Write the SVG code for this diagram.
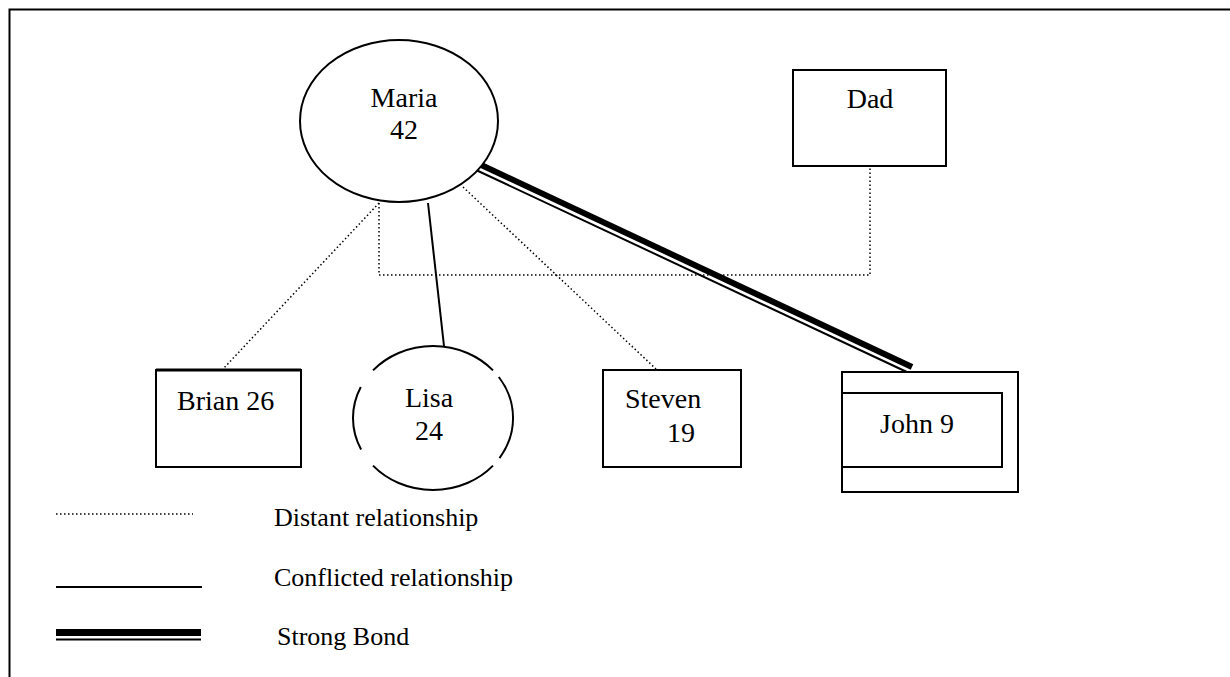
<svg xmlns="http://www.w3.org/2000/svg" width="1230" height="677" viewBox="0 0 1230 677">
<style>
.box{fill:#fff;stroke:#000;stroke-width:2}
.t{font-family:"Liberation Serif","Times New Roman",serif;font-size:28px;fill:#000}
.lt{font-family:"Liberation Serif","Times New Roman",serif;font-size:26px;fill:#000}
.dot{fill:none;stroke:#000;stroke-width:1.5;stroke-dasharray:1.5 2.5}
.solid{fill:none;stroke:#000;stroke-width:2}
.thick{fill:none;stroke:#000;stroke-width:6}
.thin{fill:none;stroke:#000;stroke-width:2}
</style>
<rect width="1230" height="677" fill="#fff"/>
<g id="frame">
<path d="M9.5,677 V9.5 H1230" fill="none" stroke="#000" stroke-width="2"/>
</g>
<g id="connectors">
<polyline class="dot" points="379,203 379,275 870,275 870,166"/>
<line class="dot" x1="379" y1="203" x2="223" y2="369"/>
<line class="dot" x1="463" y1="187" x2="656" y2="369"/>
<line class="solid" x1="428" y1="203" x2="444" y2="346"/>
<line class="thick" x1="477" y1="163" x2="912" y2="367"/>
<line class="thin" x1="476" y1="170" x2="909" y2="373"/>
</g>
<g id="maria">
<ellipse class="box" cx="399" cy="121" rx="99" ry="81"/>
<text class="t" x="404" y="107" text-anchor="middle">Maria</text>
<text class="t" x="404" y="139" text-anchor="middle">42</text>
</g>
<g id="dad">
<rect class="box" x="793" y="70" width="153" height="96"/>
<text class="t" x="870" y="108" text-anchor="middle">Dad</text>
</g>
<g id="brian">
<rect class="box" x="156" y="370" width="145" height="97"/>
<line x1="156" y1="370" x2="301" y2="370" stroke="#000" stroke-width="3"/>
<text class="t" x="177" y="410">Brian 26</text>
</g>
<g id="lisa">
<path class="solid" d="M493,370.4 A80,72 0 0 0 373,370.4 M360.8,387 A80,72 0 0 0 361.1,449.6 M373,465.6 A80,72 0 0 0 493,465.6 M499.5,458.1 A80,72 0 0 0 498.8,377"/>
<text class="t" x="429" y="407" text-anchor="middle">Lisa</text>
<text class="t" x="429" y="440" text-anchor="middle">24</text>
</g>
<g id="steven">
<rect class="box" x="603" y="370" width="138" height="97"/>
<text class="t" x="625" y="408">Steven</text>
<text class="t" x="667" y="442">19</text>
</g>
<g id="john">
<rect class="box" x="842" y="372" width="176" height="120"/>
<rect class="box" x="842" y="393" width="160" height="74" stroke-width="2.5"/>
<text class="t" x="880" y="433">John 9</text>
</g>
<g id="legend">
<line class="dot" x1="56" y1="514" x2="193" y2="514"/>
<text class="lt" x="274" y="526">Distant relationship</text>
<line class="solid" x1="56" y1="587" x2="202" y2="587"/>
<text class="lt" x="274" y="586">Conflicted relationship</text>
<line x1="56" y1="632.5" x2="201" y2="632.5" stroke="#000" stroke-width="7"/>
<line x1="56" y1="639.5" x2="201" y2="639.5" stroke="#000" stroke-width="2"/>
<text class="lt" x="277" y="645">Strong Bond</text>
</g>
</svg>
